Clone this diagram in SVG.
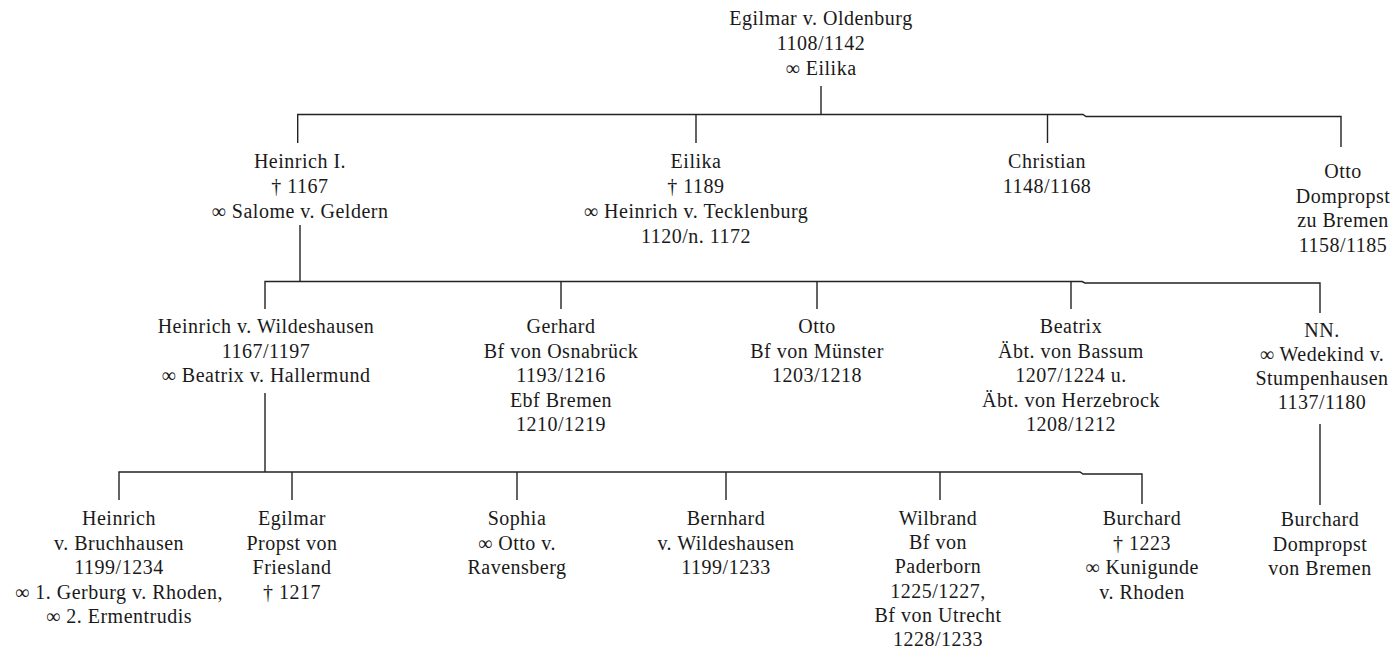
<svg xmlns="http://www.w3.org/2000/svg" width="1395" height="657" viewBox="0 0 1395 657">
<style>
.t{font-family:"Liberation Serif","Times New Roman",serif;font-size:20px;text-anchor:middle;fill:#1a1a1a;letter-spacing:0.5px}
.c{stroke:#222;stroke-width:1.4;fill:none}
</style>
<rect width="1395" height="657" fill="#fff"/>
<g id="connectors">
<path class="c" d="M821,86V114.5"/>
<path class="c" d="M297.7,143V114.5H1083L1086,116.5H1341V147"/>
<path class="c" d="M696,114.5V143"/>
<path class="c" d="M1047.5,114.5V143"/>
<path class="c" d="M300,225V281.5"/>
<path class="c" d="M265,309V281.5H1082L1085,283H1320V313"/>
<path class="c" d="M561,281.5V309"/>
<path class="c" d="M817,281.5V309"/>
<path class="c" d="M1071,281.5V309"/>
<path class="c" d="M265,393V472"/>
<path class="c" d="M119,500V472H1080L1083,474H1142V504"/>
<path class="c" d="M292,472V500"/>
<path class="c" d="M517,472V500"/>
<path class="c" d="M726,472V500"/>
<path class="c" d="M940,472V500"/>
<path class="c" d="M1320,424V505"/>
</g>
<g id="egilmar"><text class="t" x="821" y="25"><tspan x="821">Egilmar v. Oldenburg</tspan><tspan x="821" dy="25">1108/1142</tspan><tspan x="821" dy="25">∞ Eilika</tspan></text></g>
<g id="heinrich1"><text class="t" x="300" y="168"><tspan x="300">Heinrich I.</tspan><tspan x="300" dy="25">† 1167</tspan><tspan x="300" dy="25">∞ Salome v. Geldern</tspan></text></g>
<g id="eilika"><text class="t" x="696" y="168"><tspan x="696">Eilika</tspan><tspan x="696" dy="25">† 1189</tspan><tspan x="696" dy="25">∞ Heinrich v. Tecklenburg</tspan><tspan x="696" dy="25">1120/n. 1172</tspan></text></g>
<g id="christian"><text class="t" x="1047" y="168"><tspan x="1047">Christian</tspan><tspan x="1047" dy="25">1148/1168</tspan></text></g>
<g id="otto1"><text class="t" x="1343" y="178"><tspan x="1343">Otto</tspan><tspan x="1343" dy="24.5">Dompropst</tspan><tspan x="1343" dy="24.5">zu Bremen</tspan><tspan x="1343" dy="24.5">1158/1185</tspan></text></g>
<g id="heinrich-wildeshausen"><text class="t" x="266" y="333"><tspan x="266">Heinrich v. Wildeshausen</tspan><tspan x="266" dy="24.5">1167/1197</tspan><tspan x="266" dy="24.5">∞ Beatrix v. Hallermund</tspan></text></g>
<g id="gerhard"><text class="t" x="561" y="333"><tspan x="561">Gerhard</tspan><tspan x="561" dy="24.5">Bf von Osnabrück</tspan><tspan x="561" dy="24.5">1193/1216</tspan><tspan x="561" dy="24.5">Ebf Bremen</tspan><tspan x="561" dy="24.5">1210/1219</tspan></text></g>
<g id="otto2"><text class="t" x="817" y="333"><tspan x="817">Otto</tspan><tspan x="817" dy="24.5">Bf von Münster</tspan><tspan x="817" dy="24.5">1203/1218</tspan></text></g>
<g id="beatrix"><text class="t" x="1071" y="333"><tspan x="1071">Beatrix</tspan><tspan x="1071" dy="24.5">Äbt. von Bassum</tspan><tspan x="1071" dy="24.5">1207/1224 u.</tspan><tspan x="1071" dy="24.5">Äbt. von Herzebrock</tspan><tspan x="1071" dy="24.5">1208/1212</tspan></text></g>
<g id="nn"><text class="t" x="1322" y="337"><tspan x="1322">NN.</tspan><tspan x="1322" dy="24">∞ Wedekind v.</tspan><tspan x="1322" dy="24">Stumpenhausen</tspan><tspan x="1322" dy="24">1137/1180</tspan></text></g>
<g id="heinrich-bruchhausen"><text class="t" x="119" y="525"><tspan x="119">Heinrich</tspan><tspan x="119" dy="24.5">v. Bruchhausen</tspan><tspan x="119" dy="24.5">1199/1234</tspan><tspan x="119" dy="24.5">∞ 1. Gerburg v. Rhoden,</tspan><tspan x="119" dy="24.5">∞ 2. Ermentrudis</tspan></text></g>
<g id="egilmar2"><text class="t" x="292" y="525"><tspan x="292">Egilmar</tspan><tspan x="292" dy="24.5">Propst von</tspan><tspan x="292" dy="24.5">Friesland</tspan><tspan x="292" dy="24.5">† 1217</tspan></text></g>
<g id="sophia"><text class="t" x="517" y="525"><tspan x="517">Sophia</tspan><tspan x="517" dy="24.5">∞ Otto v.</tspan><tspan x="517" dy="24.5">Ravensberg</tspan></text></g>
<g id="bernhard"><text class="t" x="726" y="525"><tspan x="726">Bernhard</tspan><tspan x="726" dy="24.5">v. Wildeshausen</tspan><tspan x="726" dy="24.5">1199/1233</tspan></text></g>
<g id="wilbrand"><text class="t" x="938" y="525"><tspan x="938">Wilbrand</tspan><tspan x="938" dy="24.2">Bf von</tspan><tspan x="938" dy="24.2">Paderborn</tspan><tspan x="938" dy="24.2">1225/1227,</tspan><tspan x="938" dy="24.2">Bf von Utrecht</tspan><tspan x="938" dy="24.2">1228/1233</tspan></text></g>
<g id="burchard1"><text class="t" x="1142" y="525"><tspan x="1142">Burchard</tspan><tspan x="1142" dy="24.5">† 1223</tspan><tspan x="1142" dy="24.5">∞ Kunigunde</tspan><tspan x="1142" dy="24.5">v. Rhoden</tspan></text></g>
<g id="burchard2"><text class="t" x="1320" y="526"><tspan x="1320">Burchard</tspan><tspan x="1320" dy="24.5">Dompropst</tspan><tspan x="1320" dy="24.5">von Bremen</tspan></text></g>
</svg>
